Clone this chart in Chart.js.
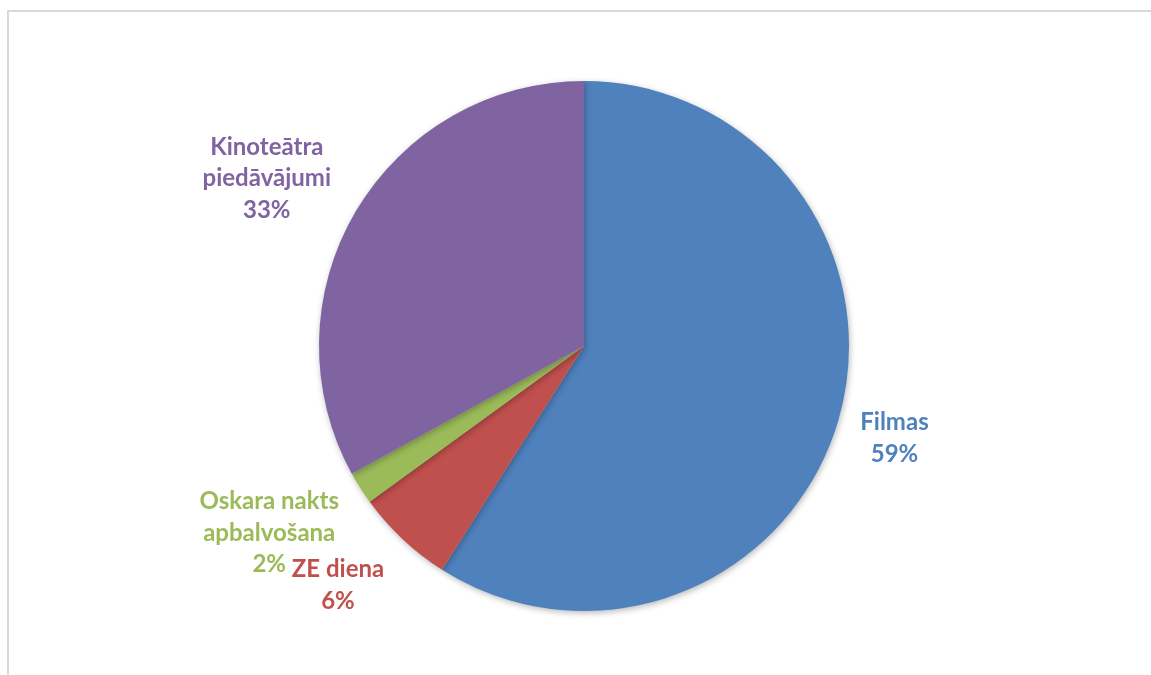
<!DOCTYPE html>
<html>
<head>
<meta charset="utf-8">
<script src="https://cdn.jsdelivr.net/npm/chart.js@4/dist/chart.umd.min.js"></script>
<style>
  html, body { margin: 0; padding: 0; background: #ffffff; }
  #wrap { width: 1151px; height: 675px; position: relative; }
</style>
</head>
<body>
<div id="wrap"><canvas id="c" width="1151" height="675"></canvas></div>
<script>
// Share of each category
const categories = ['Filmas', 'ZE diena', 'Oskara nakts apbalvošana', 'Kinoteātra piedāvājumi'];
const shares = [59, 6, 2, 33];
// Label text lines drawn beside each slice
const labelLines = [
  ['Filmas'],
  ['ZE diena'],
  ['Oskara nakts', 'apbalvošana'],
  ['Kinoteātra', 'piedāvājumi']
];
const sliceColors = ['#4F81BD', '#C0504D', '#9BBB59', '#8064A2'];

// Light grey frame around the plot area
const framePlugin = {
  id: 'frame',
  beforeDraw(chart) {
    const ctx = chart.ctx;
    ctx.save();
    ctx.strokeStyle = '#d9d9d9';
    ctx.lineWidth = 2;
    ctx.beginPath();
    ctx.moveTo(8, chart.height + 5);
    ctx.lineTo(8, 11);
    ctx.lineTo(chart.width + 5, 11);
    ctx.stroke();
    ctx.restore();
  }
};

// Soft shadow under the pie
const shadowPlugin = {
  id: 'pieShadow',
  beforeDatasetsDraw(chart) {
    const ctx = chart.ctx;
    ctx.save();
    ctx.shadowColor = 'rgba(0,0,0,0.28)';
    ctx.shadowBlur = 6;
    ctx.shadowOffsetX = 1;
    ctx.shadowOffsetY = 2;
  },
  afterDatasetsDraw(chart) {
    chart.ctx.restore();
  }
};

// Category name + percentage placed outside each slice along its mid angle
const outsideLabels = {
  id: 'outsideLabels',
  afterDatasetsDraw(chart, args, opts) {
    const ctx = chart.ctx;
    const meta = chart.getDatasetMeta(0);
    const data = chart.data.datasets[0].data;
    const total = data.reduce((a, b) => a + b, 0);
    ctx.save();
    ctx.font = 'bold 24px Lato, "Open Sans", sans-serif';
    ctx.textAlign = 'center';
    ctx.textBaseline = 'middle';
    meta.data.forEach((arc, i) => {
      const p = arc.getProps(['x', 'y', 'startAngle', 'endAngle', 'outerRadius'], true);
      const mid = (p.startAngle + p.endAngle) / 2;
      const dist = p.outerRadius * opts.radial[i];
      const cx = p.x + Math.cos(mid) * dist + opts.nudge[i][0];
      const cy = p.y + Math.sin(mid) * dist + opts.nudge[i][1];
      const lines = labelLines[i].concat([Math.round(data[i] / total * 100) + '%']);
      const lh = opts.lineHeight;
      const y0 = cy - (lines.length - 1) * lh / 2;
      ctx.fillStyle = sliceColors[i];
      lines.forEach((t, k) => ctx.fillText(t, cx, y0 + k * lh));
    });
    ctx.restore();
  }
};

new Chart(document.getElementById('c'), {
  type: 'pie',
  data: {
    labels: categories,
    datasets: [{
      data: shares,
      backgroundColor: sliceColors,
      borderWidth: 0
    }]
  },
  options: {
    responsive: false,
    animation: false,
    layout: { padding: { top: 81, bottom: 64, left: 319, right: 302 } },
    plugins: {
      legend: { display: false },
      tooltip: { enabled: false },
      outsideLabels: {
        radial: [1.22, 1.29, 1.38, 1.36],
        nudge: [[0, 2], [-12, -10], [-6, -9], [-7, 16]],
        lineHeight: 31.5
      }
    }
  },
  plugins: [framePlugin, shadowPlugin, outsideLabels]
});
</script>
</body>
</html>
